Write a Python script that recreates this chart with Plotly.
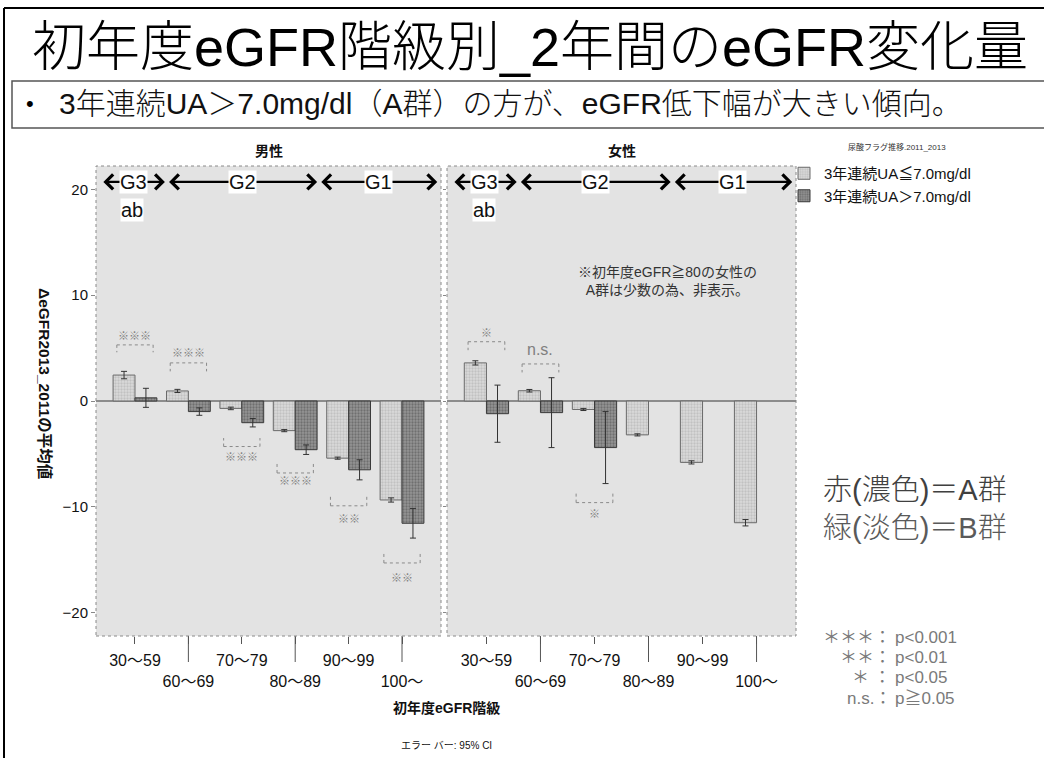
import plotly.graph_objects as go

# ---------------- data ----------------
categories = ["30～59", "60～69", "70～79", "80～89", "90～99", "100～"]
series_names = ["3年連続UA≦7.0mg/dl", "3年連続UA＞7.0mg/dl"]
male_b = [2.45, 0.95, -0.7, -2.8, -5.4, -9.35]
male_b_ci = [0.35, 0.15, 0.12, 0.1, 0.1, 0.2]
male_a = [0.3, -1.0, -2.05, -4.6, -6.5, -11.55]
male_a_ci = [0.9, 0.35, 0.4, 0.45, 0.95, 1.4]
female_b = [3.6, 0.97, -0.8, -3.2, -5.8, -11.5]
female_b_ci = [0.2, 0.12, 0.1, 0.1, 0.15, 0.3]
female_a = [-1.2, -1.1, -4.4, None, None, None]
female_a_ci = [2.7, 3.3, 3.4, None, None, None]
sig_male = ["※※※", "※※※", "※※※", "※※※", "※※", "※※"]
sig_female = ["※", "n.s.", "※", None, None, None]
panel_titles = ["男性", "女性"]
grade_labels = ["G3", "G2", "G1"]

# ---------------- layout constants ----------------
W, H = 1044, 758
L, R, T, B = 96, 796, 166, 636
PW, PH = R - L, B - T


def px(x):
    return (x - L) / PW


def py(y):
    return (B - y) / PH


FONT = "Liberation Sans, Arial, Noto Sans CJK JP, sans-serif"
LIGHT = dict(color="#c4c4c4", line=dict(color="#6a6a6a", width=1),
             pattern=dict(shape=".", fgcolor="#a8a8a8", bgcolor="#dadada", size=3, solidity=0.45))
DARK = dict(color="#707070", line=dict(color="#3a3a3a", width=1),
            pattern=dict(shape=".", fgcolor="#4a4a4a", bgcolor="#959595", size=3, solidity=0.45))
ERR = dict(type="data", color="#333333", thickness=1, width=3)

fig = go.Figure()
panels = [
    ("x", "y", male_b, male_b_ci, male_a, male_a_ci, True),
    ("x2", "y2", female_b, female_b_ci, female_a, female_a_ci, False),
]
for xa, ya, vb, cb, va, ca, show in panels:
    fig.add_trace(go.Bar(x=categories, y=vb, name=series_names[0], marker=LIGHT,
                         error_y=dict(ERR, array=cb), xaxis=xa, yaxis=ya,
                         showlegend=show, legendgroup="b"))
    fig.add_trace(go.Bar(x=categories, y=va, name=series_names[1], marker=DARK,
                         error_y=dict(ERR, array=ca), xaxis=xa, yaxis=ya,
                         showlegend=show, legendgroup="a"))

ticktext = [c if i % 2 == 0 else "<br>" + c for i, c in enumerate(categories)]
xcommon = dict(type="category", range=[-0.73, 5.73], showgrid=False, ticks="outside",
               ticklen=7, tickcolor="#555", tickfont=dict(size=16, color="#111", family=FONT),
               tickvals=categories, ticktext=ticktext, showline=False, zeroline=False,
               ticklabelstandoff=3, tickangle=0)
ycommon = dict(range=[-22.2, 22.2], tickvals=[-20, -10, 0, 10, 20], showgrid=False,
               zeroline=True, zerolinecolor="#8c8c8c", zerolinewidth=1.5,
               ticks="outside", ticklen=4, tickcolor="#888", showline=False,
               tickfont=dict(size=15, color="#111", family=FONT))
d1 = [0, px(441)]
d2 = [px(447), 1]
fig.update_layout(
    xaxis=dict(xcommon, domain=d1, anchor="y"),
    xaxis2=dict(xcommon, domain=d2, anchor="y2"),
    yaxis=dict(ycommon, domain=[0, 1], anchor="x"),
    yaxis2=dict(ycommon, domain=[0, 1], anchor="x2", showticklabels=False, ticklen=3),
)

shapes = []
annotations = []


def note(x, y, text, size, color="#111", weight=None, **kw):
    f = dict(size=size, color=color, family=FONT)
    if weight:
        f["weight"] = weight
    d = dict(xref="paper", yref="paper", x=px(x), y=py(y), text=text, showarrow=False,
             xanchor="center", yanchor="middle", font=f)
    d.update(kw)
    annotations.append(d)


# panel borders (dotted)
for xr, yr in (("x domain", "y domain"), ("x2 domain", "y2 domain")):
    shapes.append(dict(type="rect", xref=xr, yref=yr, x0=0, x1=1, y0=0, y1=1,
                       line=dict(color="#8a8a8a", width=1, dash="dot"), layer="above"))

# long ticks for second-row labels
for xr in ("x", "x2"):
    for i, c in enumerate(categories):
        if i % 2 == 1:
            shapes.append(dict(type="line", xref=xr, yref="paper", x0=i, x1=i,
                               y0=0, y1=py(662), line=dict(color="#555", width=1)))

# panel titles
for xr, t in zip(("x domain", "x2 domain"), panel_titles):
    annotations.append(dict(xref=xr, yref="paper", x=0.5, y=py(151), text="<b>%s</b>" % t,
                            xanchor="center", yanchor="middle",
                            showarrow=False, font=dict(size=14, color="#111", family=FONT)))

# grade arrows
arrow_spans = [(-0.62, 0.56), (0.61, 3.41), (3.46, 5.66)]
for xr, yr in (("x", "y"), ("x2", "y2")):
    for (a0, a1), g in zip(arrow_spans, grade_labels):
        annotations.append(dict(xref=xr, yref=yr, axref=xr, ayref=yr, x=a1, y=20.7,
                                ax=a0, ay=20.7, text="", showarrow=True, arrowhead=4,
                                startarrowhead=4, arrowside="end+start", arrowsize=1.2,
                                startarrowsize=1.2, arrowwidth=2.4, arrowcolor="#000"))
        annotations.append(dict(xref=xr, yref=yr, x=(a0 + a1) / 2, y=20.7, text=g,
                                showarrow=False, bgcolor="#ffffff", borderpad=0,
                                font=dict(size=20, color="#111", family=FONT)))
    annotations.append(dict(xref=xr, yref=yr, x=-0.05, y=18.0, text="ab", showarrow=False,
                            bgcolor="#ffffff", borderpad=0,
                            font=dict(size=20, color="#111", family=FONT)))

# significance brackets
sig_pos_m = [(5.3, 4.6, 6.1), (3.6, 2.8, 4.5), (-4.3, -3.5, -5.3), (-6.8, -5.9, -7.6),
             (-9.9, -9.0, -11.1), (-15.3, -14.4, -16.7)]
sig_pos_f = [(5.6, 4.8, 6.4), (3.5, 2.7, 4.9), (-9.6, -8.7, -10.7), None, None, None]
for xr, yr, sigs, poss in (("x", "y", sig_male, sig_pos_m), ("x2", "y2", sig_female, sig_pos_f)):
    for i, (s, p) in enumerate(zip(sigs, poss)):
        if not s or p is None:
            continue
        yl, yg, yt = p
        x0, x1 = i - 0.34, i + 0.34
        ln = dict(color="#8a8a8a", width=1, dash="dot")
        shapes.append(dict(type="line", xref=xr, yref=yr, x0=x0, x1=x1, y0=yl, y1=yl, line=ln))
        shapes.append(dict(type="line", xref=xr, yref=yr, x0=x0, x1=x0, y0=yl, y1=yg, line=ln))
        shapes.append(dict(type="line", xref=xr, yref=yr, x0=x1, x1=x1, y0=yl, y1=yg, line=ln))
        fs = 16 if s == "n.s." else 11
        annotations.append(dict(xref=xr, yref=yr, x=i, y=yt, text=s, showarrow=False,
                                font=dict(size=fs, color="#808080", family=FONT)))

# note in female panel
annotations.append(dict(xref="x2", yref="y2", x=3.35, y=11.3,
                        text="※初年度eGFR≧80の女性の<br>A群は少数の為、非表示。",
                        showarrow=False, font=dict(size=14, color="#333", family=FONT)))

# axis titles and notes
note(45, 383, "<b>ΔeGFR2013_2011の平均値</b>", 15.5, textangle=90)
note(446, 708, "<b>初年度eGFR階級</b>", 14)
note(446, 745, "エラー バー: 95% CI", 10)
# title / subtitle
note(530, 47, "初年度eGFR階級別_2年間のeGFR変化量", 54, "#000", weight=300)
note(30, 104, "•", 22, "#000")
note(57, 104, "3年連続UA＞7.0mg/dl（A群）の方が、eGFR低下幅が大きい傾向。", 30, weight=300,
     xanchor="left")
# color key
note(915, 490, "赤(濃色)＝A群", 29, "#404040", weight=300)
note(915, 528, "緑(淡色)＝B群", 29, "#5a5a5a", weight=300)
p_rows = [("＊＊＊：", "p<0.001", 637), ("＊＊：", "p<0.01", 657),
          ("＊ ：", "p<0.05", 677), ("n.s.：", "p≧0.05", 698)]
for lft, rgt, yy in p_rows:
    note(893, yy, lft, 17, "#7a7a7a", xanchor="right")
    note(893, yy, rgt, 17, "#7a7a7a", xanchor="left")
# legend title
note(897, 147, "尿酸フラグ推移.2011_2013", 8, "#333")

# slide frames
shapes += [
    dict(type="line", xref="paper", yref="paper", x0=px(4), x1=px(4), y0=py(8), y1=py(760),
         line=dict(color="#000", width=2)),
    dict(type="line", xref="paper", yref="paper", x0=px(4), x1=px(1050), y0=py(8), y1=py(8),
         line=dict(color="#000", width=2)),
    dict(type="rect", xref="paper", yref="paper", x0=px(12), x1=px(1060), y0=py(81), y1=py(128),
         line=dict(color="#555", width=1.5)),
]

fig.update_layout(
    width=W, height=H,
    margin=dict(l=L, r=W - R, t=T, b=H - B),
    paper_bgcolor="#ffffff", plot_bgcolor="#e3e3e3",
    barmode="group", bargap=0.18, bargroupgap=0,
    font=dict(family=FONT, color="#111"),
    shapes=shapes, annotations=annotations,
    legend=dict(x=px(784), y=py(157), xanchor="left", yanchor="top",
                bgcolor="rgba(0,0,0,0)", tracegroupgap=0, itemwidth=30,
                font=dict(size=15, color="#111", family=FONT)),
)

fig.write_html("out.html", config={"displayModeBar": False},
               post_script="document.body.style.margin='0';document.body.style.overflow='hidden';")
